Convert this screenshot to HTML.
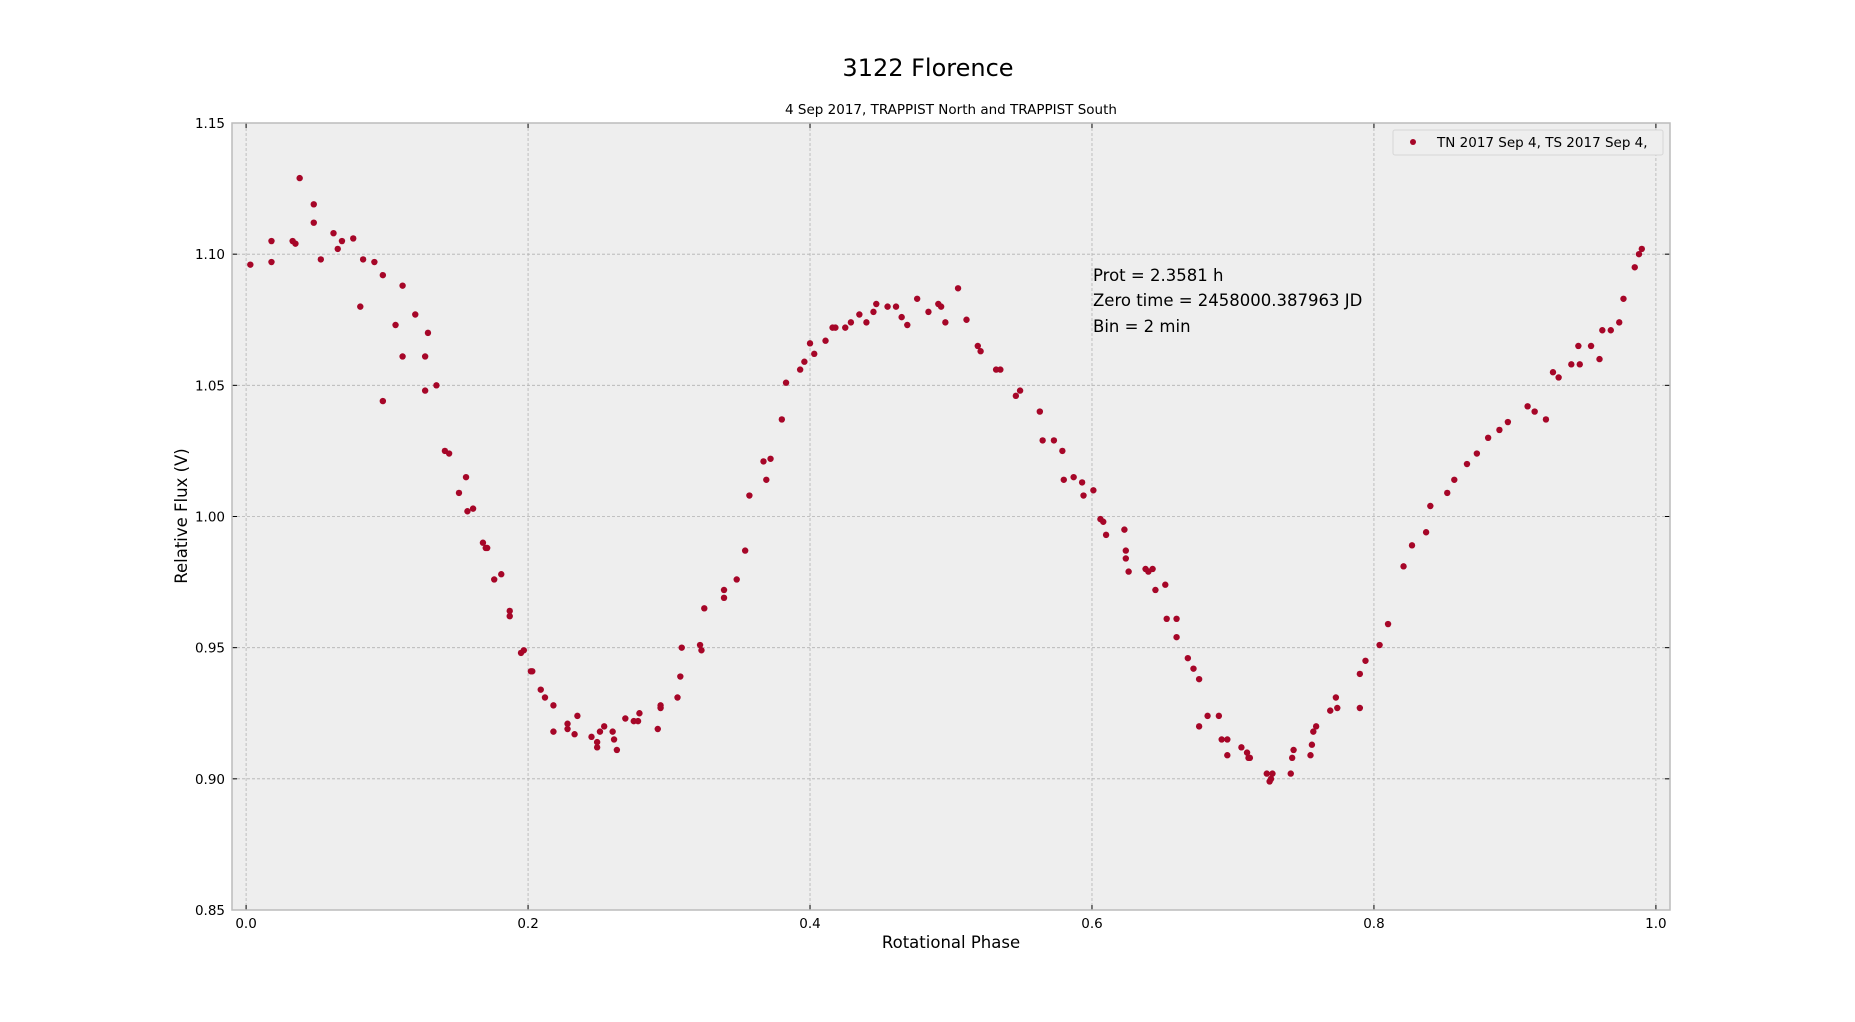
<!DOCTYPE html>
<html><head><meta charset="utf-8"><style>
html,body{margin:0;padding:0;background:#fff;}
svg{display:block;font-family:"DejaVu Sans","Liberation Sans",sans-serif;}
</style></head><body>
<svg id="chart" width="1855" height="1022" viewBox="0 0 1855 1022" xmlns="http://www.w3.org/2000/svg">
<text x="928" y="76" font-size="24" text-anchor="middle" fill="#000">3122 Florence</text>
<text x="951" y="114" font-size="13.5" text-anchor="middle" fill="#000">4 Sep 2017, TRAPPIST North and TRAPPIST South</text>
<rect x="232" y="123" width="1438" height="787" fill="#eeeeee"/>
<g id="grid"></g>
<g id="ticks"></g>
<g id="points"></g>
<rect x="232" y="123" width="1438" height="787" fill="none" stroke="#bcbcbc" stroke-width="1.5"/>
<g font-size="16.5" fill="#000">
<text x="1093" y="281">Prot = 2.3581 h</text>
<text x="1093" y="306">Zero time = 2458000.387963 JD</text>
<text x="1093" y="332">Bin = 2 min</text>
</g>
<g>
<rect x="1393" y="130" width="270" height="25" rx="2" fill="#eeeeee" stroke="#d6d6d6"/>
<circle cx="1413" cy="142" r="3" fill="#A60628"/>
<text x="1437" y="147" font-size="13.5" fill="#000">TN 2017 Sep 4, TS 2017 Sep 4,</text>
</g>
<text x="951" y="948" font-size="16.5" text-anchor="middle" fill="#000">Rotational Phase</text>
<text x="0" y="0" font-size="16.5" text-anchor="middle" fill="#000" transform="translate(187,516) rotate(-90)">Relative Flux (V)</text>
</svg>
<script>
const xTicks=[0,0.2,0.4,0.6,0.8,1.0];
const xTickLabels=["0.0","0.2","0.4","0.6","0.8","1.0"];
const yTicks=[0.85,0.90,0.95,1.00,1.05,1.10,1.15];
const yTickLabels=["0.85","0.90","0.95","1.00","1.05","1.10","1.15"];
const phase=[0.003,0.018,0.018,0.033,0.035,0.038,0.048,0.048,0.053,0.062,0.065,0.068,0.076,0.081,0.083,0.091,0.097,0.097,0.106,0.111,0.111,0.12,0.127,0.127,0.129,0.135,0.141,0.144,0.151,0.156,0.157,0.161,0.168,0.17,0.171,0.176,0.181,0.187,0.187,0.195,0.197,0.202,0.203,0.209,0.212,0.218,0.218,0.228,0.228,0.233,0.235,0.245,0.249,0.249,0.251,0.254,0.26,0.261,0.263,0.269,0.275,0.278,0.279,0.292,0.294,0.294,0.306,0.308,0.309,0.322,0.323,0.325,0.339,0.339,0.348,0.354,0.357,0.367,0.369,0.372,0.38,0.383,0.393,0.396,0.4,0.403,0.411,0.416,0.418,0.425,0.429,0.435,0.44,0.445,0.447,0.455,0.461,0.465,0.469,0.476,0.484,0.491,0.493,0.496,0.505,0.511,0.519,0.521,0.532,0.535,0.546,0.549,0.563,0.565,0.573,0.579,0.58,0.587,0.593,0.594,0.601,0.606,0.608,0.61,0.623,0.624,0.624,0.626,0.638,0.64,0.643,0.645,0.652,0.653,0.66,0.66,0.668,0.672,0.676,0.676,0.682,0.69,0.692,0.696,0.696,0.706,0.71,0.711,0.712,0.724,0.726,0.727,0.728,0.741,0.742,0.743,0.755,0.756,0.757,0.759,0.769,0.773,0.774,0.79,0.79,0.794,0.804,0.81,0.821,0.827,0.837,0.84,0.852,0.857,0.866,0.873,0.881,0.889,0.895,0.909,0.914,0.922,0.927,0.931,0.94,0.945,0.946,0.954,0.96,0.962,0.968,0.974,0.977,0.985,0.988,0.99];
const flux=[1.096,1.105,1.097,1.105,1.104,1.129,1.119,1.112,1.098,1.108,1.102,1.105,1.106,1.080,1.098,1.097,1.092,1.044,1.073,1.088,1.061,1.077,1.061,1.048,1.070,1.050,1.025,1.024,1.009,1.015,1.002,1.003,0.990,0.988,0.988,0.976,0.978,0.964,0.962,0.948,0.949,0.941,0.941,0.934,0.931,0.928,0.918,0.921,0.919,0.917,0.924,0.916,0.914,0.912,0.918,0.920,0.918,0.915,0.911,0.923,0.922,0.922,0.925,0.919,0.928,0.927,0.931,0.939,0.950,0.951,0.949,0.965,0.972,0.969,0.976,0.987,1.008,1.021,1.014,1.022,1.037,1.051,1.056,1.059,1.066,1.062,1.067,1.072,1.072,1.072,1.074,1.077,1.074,1.078,1.081,1.080,1.080,1.076,1.073,1.083,1.078,1.081,1.080,1.074,1.087,1.075,1.065,1.063,1.056,1.056,1.046,1.048,1.040,1.029,1.029,1.025,1.014,1.015,1.013,1.008,1.010,0.999,0.998,0.993,0.995,0.984,0.987,0.979,0.980,0.979,0.980,0.972,0.974,0.961,0.961,0.954,0.946,0.942,0.938,0.920,0.924,0.924,0.915,0.909,0.915,0.912,0.910,0.908,0.908,0.902,0.899,0.900,0.902,0.902,0.908,0.911,0.909,0.913,0.918,0.920,0.926,0.931,0.927,0.927,0.940,0.945,0.951,0.959,0.981,0.989,0.994,1.004,1.009,1.014,1.020,1.024,1.030,1.033,1.036,1.042,1.040,1.037,1.055,1.053,1.058,1.065,1.058,1.065,1.060,1.071,1.071,1.074,1.083,1.095,1.100,1.102];

const L=232,R=1670,T=123,B=910;
const xMin=-0.01,xMax=1.01,yMin=0.85,yMax=1.15;
function xs(v){return L+(v-xMin)/(xMax-xMin)*(R-L);}
function ys(v){return B-(v-yMin)/(yMax-yMin)*(B-T);}
const NS="http://www.w3.org/2000/svg";
function mk(tag,attrs,parent){const e=document.createElementNS(NS,tag);for(const k in attrs)e.setAttribute(k,attrs[k]);parent.appendChild(e);return e;}
const svg=document.getElementById('chart');
const grid=document.getElementById('grid'),ticks=document.getElementById('ticks'),pts=document.getElementById('points');
xTicks.forEach((t,i)=>{
  const x=xs(t);
  const g=mk('line',{x1:x,x2:x,y1:T,y2:B,stroke:'#b2b2b2','stroke-width':0.8,'stroke-dasharray':'3,2'},grid);
  
  
  const a=mk('line',{x1:x,x2:x,y1:T,y2:T+5,stroke:'#000','stroke-width':1},ticks);
  
  
  const b=mk('line',{x1:x,x2:x,y1:B,y2:B-5,stroke:'#000','stroke-width':1},ticks);
  
  
  const lb=mk('text',{x:x,y:B+18,'font-size':13.5,'text-anchor':'middle',fill:'#000'},ticks);
  lb.textContent=xTickLabels[i];
  
  
});
yTicks.forEach((t,i)=>{
  const y=ys(t);
  const g=mk('line',{x1:L,x2:R,y1:y,y2:y,stroke:'#b2b2b2','stroke-width':0.8,'stroke-dasharray':'3,2'},grid);
  
  
  const a=mk('line',{x1:L,x2:L+5,y1:y,y2:y,stroke:'#000','stroke-width':1},ticks);
  
  
  const b=mk('line',{x1:R,x2:R-5,y1:y,y2:y,stroke:'#000','stroke-width':1},ticks);
  
  
  const lb=mk('text',{x:L-7,y:y+5,'font-size':13.5,'text-anchor':'end',fill:'#000'},ticks);
  lb.textContent=yTickLabels[i];
  
  
});
phase.forEach((p,i)=>{
  const c=mk('circle',{cx:xs(p),cy:ys(flux[i]),r:3.2,fill:'#A60628'},pts);
  
  
});
</script>
</body></html>
